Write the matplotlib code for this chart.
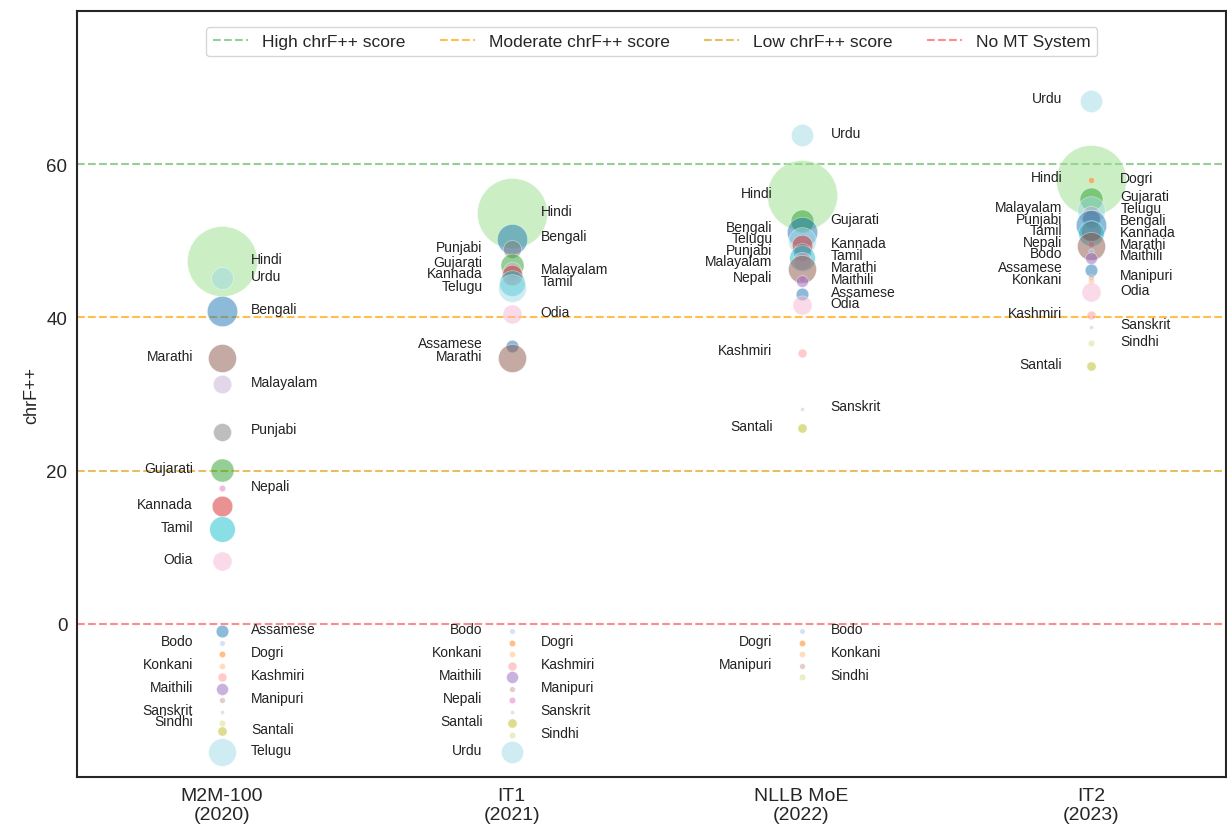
import matplotlib
matplotlib.use("Agg")
from matplotlib import pyplot as plt
from matplotlib.lines import Line2D
import seaborn as sns

sns.set_style("white")
plt.rcParams['font.family'] = ['Liberation Sans', 'DejaVu Sans']

# speakers in millions (census 2011) -> bubble area
speakers = {
    'Hindi': 528.3, 'Bengali': 97.2, 'Marathi': 83.0, 'Telugu': 81.1, 'Tamil': 69.0,
    'Gujarati': 55.5, 'Urdu': 50.8, 'Kannada': 43.7, 'Odia': 37.5, 'Malayalam': 34.8,
    'Punjabi': 33.1, 'Assamese': 15.3, 'Maithili': 13.6, 'Santali': 7.4, 'Kashmiri': 6.8,
    'Nepali': 2.9, 'Sindhi': 2.8, 'Dogri': 2.6, 'Konkani': 2.3, 'Manipuri': 1.8,
    'Bodo': 1.5, 'Sanskrit': 0.025,
}

models = ['M2M-100\n(2020)', 'IT1\n(2021)', 'NLLB MoE\n(2022)', 'IT2\n(2023)']

m2m_langs = ['Hindi', 'Urdu', 'Bengali', 'Marathi', 'Malayalam', 'Punjabi', 'Gujarati',
             'Nepali', 'Kannada', 'Tamil', 'Odia', 'Assamese', 'Bodo', 'Dogri', 'Konkani',
             'Kashmiri', 'Maithili', 'Manipuri', 'Sanskrit', 'Sindhi', 'Santali', 'Telugu']
m2m_scores = [47.3, 45.1, 40.8, 34.7, 31.3, 25.1, 20.1, 17.7, 15.4, 12.4, 8.2,
              -1.0, -2.5, -4.0, -5.5, -7.0, -8.5, -10.0, -11.5, -13.0, -14.0, -16.8]
m2m_sides = 'RRRLRRLRLLLRLRLRLRLLRR'

it1_langs = ['Hindi', 'Bengali', 'Punjabi', 'Gujarati', 'Malayalam', 'Kannada', 'Tamil',
             'Telugu', 'Odia', 'Assamese', 'Marathi', 'Bodo', 'Dogri', 'Konkani', 'Kashmiri',
             'Maithili', 'Manipuri', 'Nepali', 'Sanskrit', 'Santali', 'Sindhi', 'Urdu']
it1_scores = [53.6, 50.3, 48.9, 46.8, 46.0, 45.6, 44.5, 43.8, 40.4, 36.3, 34.7,
              -1.0, -2.5, -4.0, -5.5, -7.0, -8.5, -10.0, -11.5, -13.0, -14.5, -16.8]
it1_sides = 'RRLLRLRLRLLLRLRLRLRLRL'

nllb_langs = ['Urdu', 'Hindi', 'Gujarati', 'Bengali', 'Telugu', 'Kannada', 'Punjabi',
              'Tamil', 'Malayalam', 'Marathi', 'Nepali', 'Maithili', 'Assamese', 'Odia',
              'Kashmiri', 'Sanskrit', 'Santali', 'Bodo', 'Dogri', 'Konkani', 'Manipuri', 'Sindhi']
nllb_scores = [63.8, 56.0, 52.6, 51.2, 50.0, 49.4, 48.6, 47.8, 47.3, 46.3, 45.0, 44.7,
               43.0, 41.6, 35.4, 28.1, 25.5, -1.0, -2.5, -4.0, -5.5, -7.0]
nllb_sides = 'RLRLLRLRLRLRRRLRLRLRLR'

it2_langs = ['Urdu', 'Hindi', 'Dogri', 'Gujarati', 'Telugu', 'Malayalam', 'Punjabi',
             'Bengali', 'Kannada', 'Tamil', 'Nepali', 'Marathi', 'Bodo', 'Maithili',
             'Assamese', 'Manipuri', 'Konkani', 'Odia', 'Kashmiri', 'Sanskrit', 'Sindhi', 'Santali']
it2_scores = [68.3, 58.0, 57.9, 55.5, 54.0, 53.4, 52.8, 52.0, 51.3, 51.0, 49.6, 49.3,
              48.7, 47.8, 46.2, 45.3, 44.8, 43.3, 40.3, 38.8, 36.6, 33.6]
it2_sides = 'LLRRRLLRRLLRLRLRLRLRRL'

thresholds = [60, 40, 20, 0]
threshold_labels = ['High chrF++ score', 'Moderate chrF++ score', 'Low chrF++ score', 'No MT System']

colors = {
    'Assamese': '#1f77b4', 'Bengali': '#1f77b4', 'Bodo': '#aec7e8', 'Dogri': '#ff7f0e',
    'Konkani': '#ffbb78', 'Gujarati': '#2ca02c', 'Hindi': '#98df8a', 'Kannada': '#d62728',
    'Kashmiri': '#ff9896', 'Maithili': '#9467bd', 'Malayalam': '#c5b0d5', 'Marathi': '#8c564b',
    'Manipuri': '#c49c94', 'Nepali': '#e377c2', 'Odia': '#f7b6d2', 'Punjabi': '#7f7f7f',
    'Sanskrit': '#c7c7c7', 'Santali': '#bcbd22', 'Sindhi': '#dbdb8d', 'Tamil': '#17becf',
    'Telugu': '#9edae5', 'Urdu': '#9edae5',
}
line_styles = [('#2ca02c', 0.5), ('#ffa500', 0.7), ('#daa520', 0.7), ('red', 0.45)]


def spread(ys, gap):
    # push overlapping labels apart along y
    ys = list(ys)
    for _ in range(500):
        order = sorted(range(len(ys)), key=lambda k: ys[k])
        moved = False
        for a, b in zip(order, order[1:]):
            d = ys[b] - ys[a]
            if d < gap - 1e-6:
                push = (gap - d) / 2
                ys[a] -= push
                ys[b] += push
                moved = True
        if not moved:
            break
    return ys


fig = plt.figure(figsize=(12.27, 8.37), dpi=100)
ax = fig.add_axes([77 / 1227, 1 - 778 / 837, 1 - 77 / 1227 - 0.0005, (778 - 12) / 837])

handles = []
for t, lab, (c, a) in zip(thresholds, threshold_labels, line_styles):
    ax.axhline(t, color=c, alpha=a, linestyle='--', linewidth=1.5, zorder=1)
    handles.append(Line2D([], [], color=c, alpha=a, linestyle='--', linewidth=1.5, label=lab))

columns = [(m2m_langs, m2m_scores, m2m_sides), (it1_langs, it1_scores, it1_sides),
           (nllb_langs, nllb_scores, nllb_sides), (it2_langs, it2_scores, it2_sides)]

for i, (langs, scores, sides) in enumerate(columns):
    for lang, sc in zip(langs, scores):
        ax.scatter(i, sc, s=speakers[lang] * 4.8 + 8, color=colors[lang], alpha=0.5,
                   edgecolor='white', linewidth=0.5, zorder=2)
    for side in 'LR':
        idx = [k for k, s in enumerate(sides) if s == side]
        ys = spread([scores[k] + 0.3 for k in idx], 1.5)
        for k, y in zip(idx, ys):
            if side == 'R':
                ax.text(i + 0.1, y, langs[k], ha='left', va='center', fontsize=10, color='#222222')
            else:
                ax.text(i - 0.1, y, langs[k], ha='right', va='center', fontsize=10, color='#222222')

ax.set_xlim(-0.5, 3.466)
ax.set_ylim(-20, 80)
ax.set_xticks(range(len(models)))
ax.set_xticklabels(models, fontsize=14, color='#262626')
ax.set_yticks([0, 20, 40, 60])
ax.tick_params(axis='y', labelsize=13.5, labelcolor='#262626')
ax.set_ylabel('chrF++', fontsize=13, color='#262626')
for sp in ax.spines.values():
    sp.set_color('#262626')
    sp.set_linewidth(1.5)

ax.legend(handles=handles, loc='upper center', ncol=4, fontsize=12.5, frameon=True,
          bbox_to_anchor=(0.5, 0.99), columnspacing=2.0, handlelength=2)

fig.savefig('out.png', dpi=100)
